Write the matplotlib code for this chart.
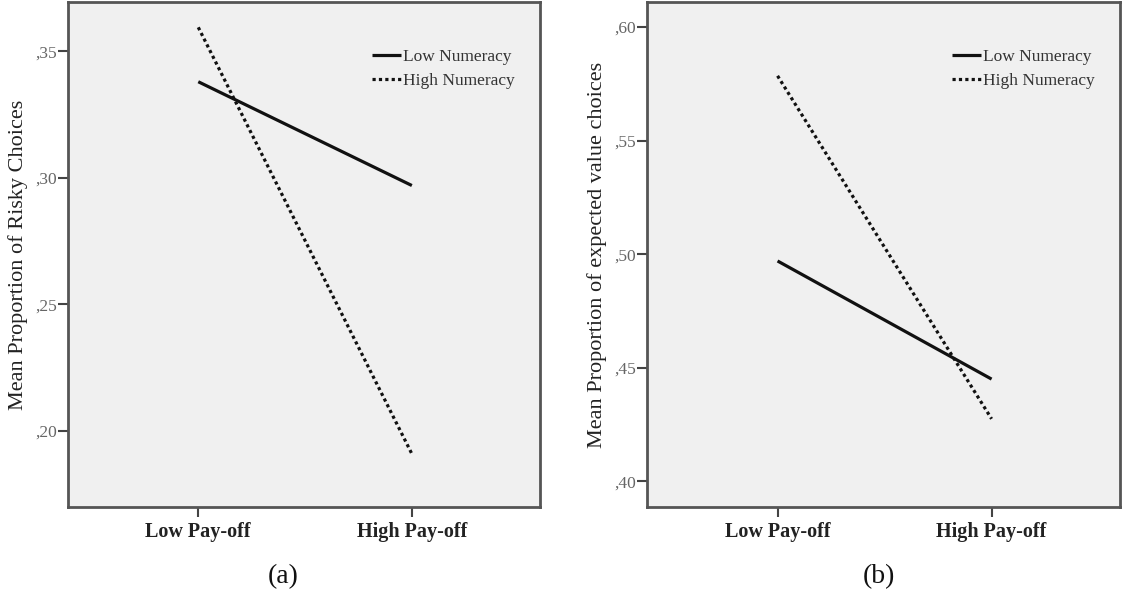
import matplotlib
matplotlib.use("Agg")
import matplotlib.pyplot as plt
from matplotlib.ticker import FuncFormatter

plt.rcParams["font.family"] = ["Liberation Serif", "DejaVu Serif"]

# categories on the x axis
payoff = ["Low Pay-off", "High Pay-off"]
groups = ["Low Numeracy", "High Numeracy"]

# (a) mean proportion of risky choices
risky_low_num = [0.338, 0.297]
risky_high_num = [0.3595, 0.191]
risky_ticks = [0.20, 0.25, 0.30, 0.35]

# (b) mean proportion of expected value choices
ev_low_num = [0.497, 0.445]
ev_high_num = [0.5785, 0.4275]
ev_ticks = [0.40, 0.45, 0.50, 0.55, 0.60]

panels = [
    ("Mean Proportion of Risky Choices", risky_low_num, risky_high_num,
     risky_ticks, (0.170, 0.3695), "(a)"),
    ("Mean Proportion of expected value choices", ev_low_num, ev_high_num,
     ev_ticks, (0.3887, 0.611), "(b)"),
]

W, H = 1124, 590
fig = plt.figure(figsize=(W / 100, H / 100), dpi=100)

# axes boxes in pixels: left, top, right, bottom
boxes = [(68, 2, 540, 507), (647, 2, 1120, 507)]
letter_x = [283, 879]

comma_fmt = FuncFormatter(lambda v, pos: ("%.2f" % v).replace("0.", ","))

for (ylab, low, high, ticks, ylim, letter), (l, t, r, b), lx in zip(panels, boxes, letter_x):
    ax = fig.add_axes([l / W, 1 - b / H, (r - l) / W, (b - t) / H])
    ax.set_facecolor("#f0f0f0")
    x = list(range(len(payoff)))
    ax.plot(x, low, color="#111111", lw=2.3, solid_capstyle="butt", label=groups[0])
    ax.plot(x, high, color="#111111", lw=2.3, linestyle=(0, (1, 1)),
            dash_capstyle="butt", label=groups[1])
    ax.set_xlim(-0.61, 1.6)
    ax.set_ylim(*ylim)
    ax.set_xticks(x)
    ax.set_xticklabels(payoff, fontsize=14.5, fontweight="bold", color="#222222")
    ax.set_yticks(ticks)
    ax.yaxis.set_major_formatter(comma_fmt)
    ax.tick_params(axis="y", labelsize=12.5, labelcolor="#666666", length=7,
                   width=1.5, color="#444444", pad=1)
    ax.tick_params(axis="x", length=7, width=1.5, color="#444444", pad=4)
    for s in ax.spines.values():
        s.set_color("#555555")
        s.set_linewidth(2)
    ax.set_ylabel(ylab, fontsize=16, color="#222222", labelpad=5)
    leg = ax.legend(loc="upper right", frameon=False, fontsize=12.5,
                    handlelength=1.7, handletextpad=0.1, labelspacing=0.45,
                    bbox_to_anchor=(0.98, 0.938))
    for txt in leg.get_texts():
        txt.set_color("#333333")
    fig.text(lx / W, 1 - 577 / H, letter, fontsize=20, ha="center", va="center",
             color="#111111")

fig.savefig("out.png", dpi=100)
